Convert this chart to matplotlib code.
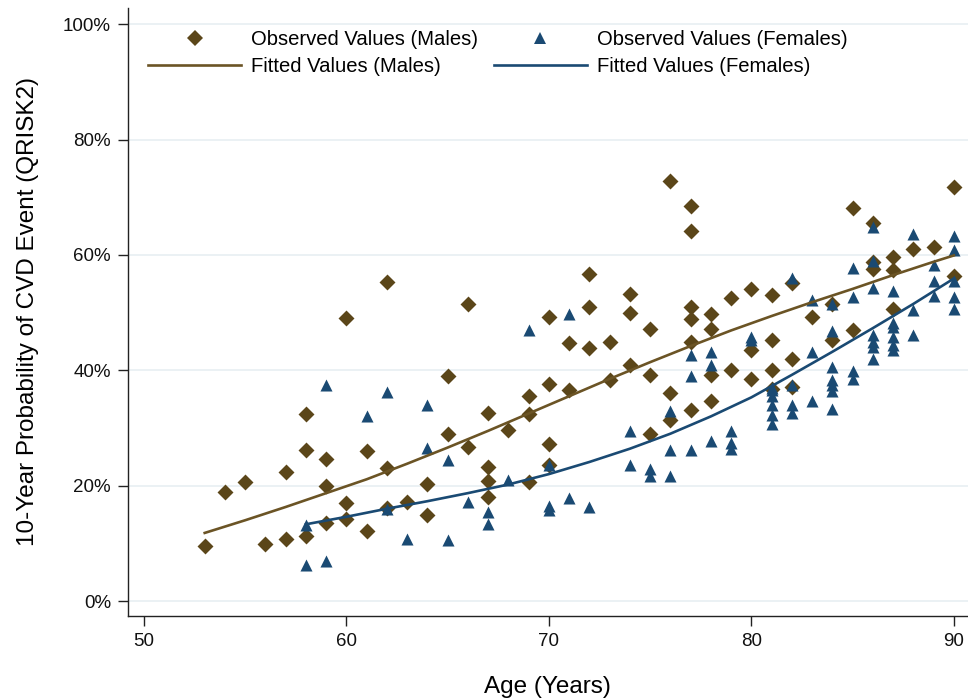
import matplotlib
matplotlib.use("Agg")
import matplotlib.pyplot as plt
from matplotlib.lines import Line2D
from matplotlib.ticker import PercentFormatter

plt.rcParams['font.family'] = ['Liberation Sans', 'DejaVu Sans']

# observed values, males (age, % risk)
male_age = [53, 54, 55, 56, 57, 57, 58, 58, 58, 59, 59, 59, 60, 60, 60, 61, 61,
            62, 62, 62, 63, 64, 64, 65, 65, 66, 66, 67, 67, 67, 67, 68,
            69, 69, 69, 70, 70, 70, 70, 71, 71, 72, 72, 72, 73, 73,
            74, 74, 74, 75, 75, 75, 76, 76, 76, 77, 77, 77, 77, 77, 77,
            78, 78, 78, 78, 79, 79, 80, 80, 80, 81, 81, 81, 81,
            82, 82, 82, 83, 84, 84, 85, 85, 86, 86, 86, 87, 87, 87,
            88, 89, 90, 90]
male_risk = [9.6, 18.9, 20.6, 9.8, 10.7, 22.3, 32.4, 26.1, 11.3, 24.6, 19.9, 13.6, 49.0, 17.0, 14.3, 26.0, 12.2,
             55.3, 23.0, 16.1, 17.2, 20.3, 14.9, 39.0, 29.0, 51.5, 26.7, 32.6, 23.3, 20.8, 18.0, 29.7,
             35.5, 32.5, 20.6, 49.2, 37.7, 27.2, 23.6, 44.7, 36.6, 56.7, 51.0, 43.9, 44.9, 38.3,
             53.3, 49.9, 40.9, 47.2, 39.2, 29.0, 72.8, 36.0, 31.4, 68.5, 64.1, 51.0, 48.8, 44.9, 33.1,
             49.7, 47.2, 39.2, 34.7, 52.5, 40.1, 54.1, 43.5, 38.4, 53.1, 45.2, 40.0, 36.7,
             55.1, 41.9, 37.1, 49.3, 51.4, 45.2, 68.1, 47.0, 65.5, 58.7, 57.6, 59.7, 57.4, 50.7,
             61.0, 61.4, 71.8, 56.3]

# observed values, females
female_age = [58, 58, 59, 59, 61, 62, 62, 63, 64, 64, 65, 65, 66, 67, 67, 68, 69,
              70, 70, 70, 71, 71, 72, 74, 74, 75, 75, 76, 76, 76, 77, 77, 77,
              78, 78, 78, 79, 79, 79, 80, 80, 81, 81, 81, 81, 81, 81,
              82, 82, 82, 82, 83, 83, 83, 84, 84, 84, 84, 84, 84, 84,
              85, 85, 85, 85, 86, 86, 86, 86, 86, 86, 86,
              87, 87, 87, 87, 87, 87, 88, 88, 88, 89, 89, 89, 90, 90, 90, 90, 90]
female_risk = [13.1, 6.3, 37.4, 6.9, 32.0, 36.3, 16.0, 10.7, 33.9, 26.5, 24.4, 10.6, 17.1, 15.4, 13.4, 20.9, 47.0,
               23.5, 16.4, 15.7, 49.8, 17.8, 16.3, 29.4, 23.5, 22.9, 21.6, 33.0, 26.2, 21.6, 42.6, 39.0, 26.1,
               43.2, 40.9, 27.8, 29.4, 27.4, 26.4, 45.8, 45.2, 37.0, 35.6, 34.0, 32.3, 30.6, 36.6,
               56.0, 37.5, 34.0, 32.6, 52.1, 43.2, 34.7, 51.4, 46.8, 40.5, 37.5, 36.4, 33.3, 38.3,
               57.8, 52.7, 39.9, 38.4, 64.9, 59.0, 54.3, 46.1, 44.9, 44.0, 41.9,
               53.8, 48.2, 47.5, 45.8, 44.4, 43.5, 63.7, 50.5, 46.1, 58.3, 55.4, 52.8, 63.2, 60.9, 55.5, 52.7, 50.7]

# fitted curves
fit_age_m = [53, 55, 57, 59, 61, 63, 65, 67, 69, 71, 73, 75, 77, 79, 81, 83, 85, 87, 89, 90]
fit_m = [11.8, 14.0, 16.3, 18.7, 21.1, 23.8, 26.6, 29.5, 32.5, 35.5, 38.5, 41.4, 44.2, 46.9,
         49.4, 51.8, 54.1, 56.5, 58.8, 59.9]
fit_age_f = [58, 60, 62, 64, 66, 68, 70, 72, 74, 76, 78, 80, 82, 84, 86, 88, 90]
fit_f = [13.3, 14.6, 16.0, 17.3, 18.7, 20.2, 22.0, 24.1, 26.4, 29.0, 32.0, 35.3, 39.2, 43.2,
         47.3, 51.5, 55.9]

brown = '#5b4619'
brown_line = '#6b5425'
blue = '#1a4a73'
grid_c = '#e8eff2'

fig = plt.figure(figsize=(9.68, 7.0), dpi=100)
ax = fig.add_axes([0.132, 0.12, 0.868, 0.8686])

ax.scatter(male_age, male_risk, marker='D', s=66, color=brown, linewidths=0, zorder=3)
ax.scatter(female_age, female_risk, marker='^', s=75, color=blue, linewidths=0, zorder=3)
ax.plot(fit_age_m, fit_m, color=brown_line, lw=1.9, zorder=4)
ax.plot(fit_age_f, fit_f, color=blue, lw=1.9, zorder=4)

ax.set_xlim(49.2, 90.7)
ax.set_ylim(-2.6, 102.8)
ax.set_xticks([50, 60, 70, 80, 90])
ax.set_yticks([0, 20, 40, 60, 80, 100])
ax.yaxis.set_major_formatter(PercentFormatter(xmax=100, decimals=0))
ax.yaxis.grid(True, color=grid_c, lw=1.2)
ax.set_axisbelow(True)

for side in ['top', 'right']:
    ax.spines[side].set_visible(False)
for side in ['left', 'bottom']:
    ax.spines[side].set_color('#222222')
    ax.spines[side].set_linewidth(1.0)
ax.tick_params(direction='out', length=7, width=1, color='#222222',
               labelsize=13.5, labelcolor='#111111', pad=5)

ax.set_xlabel('Age (Years)', fontsize=17.5, labelpad=19)
ax.set_ylabel('10-Year Probability of CVD Event (QRISK2)', fontsize=17.5, labelpad=17)

handles = [
    Line2D([], [], marker='D', ls='none', color=brown, ms=7.8, mew=0),
    Line2D([], [], color=brown_line, lw=1.9),
    Line2D([], [], marker='^', ls='none', color=blue, ms=8.5, mew=0),
    Line2D([], [], color=blue, lw=1.9),
]
labels = ['Observed Values (Males)', 'Fitted Values (Males)',
          'Observed Values (Females)', 'Fitted Values (Females)']
ax.legend(handles, labels, ncol=2, loc='upper left', bbox_to_anchor=(0.024, 0.963),
          frameon=False, fontsize=14.6, handlelength=4.6, handletextpad=0.5,
          columnspacing=0.75, labelspacing=0.36, borderpad=0, borderaxespad=0)

fig.savefig('out.png', dpi=100)
